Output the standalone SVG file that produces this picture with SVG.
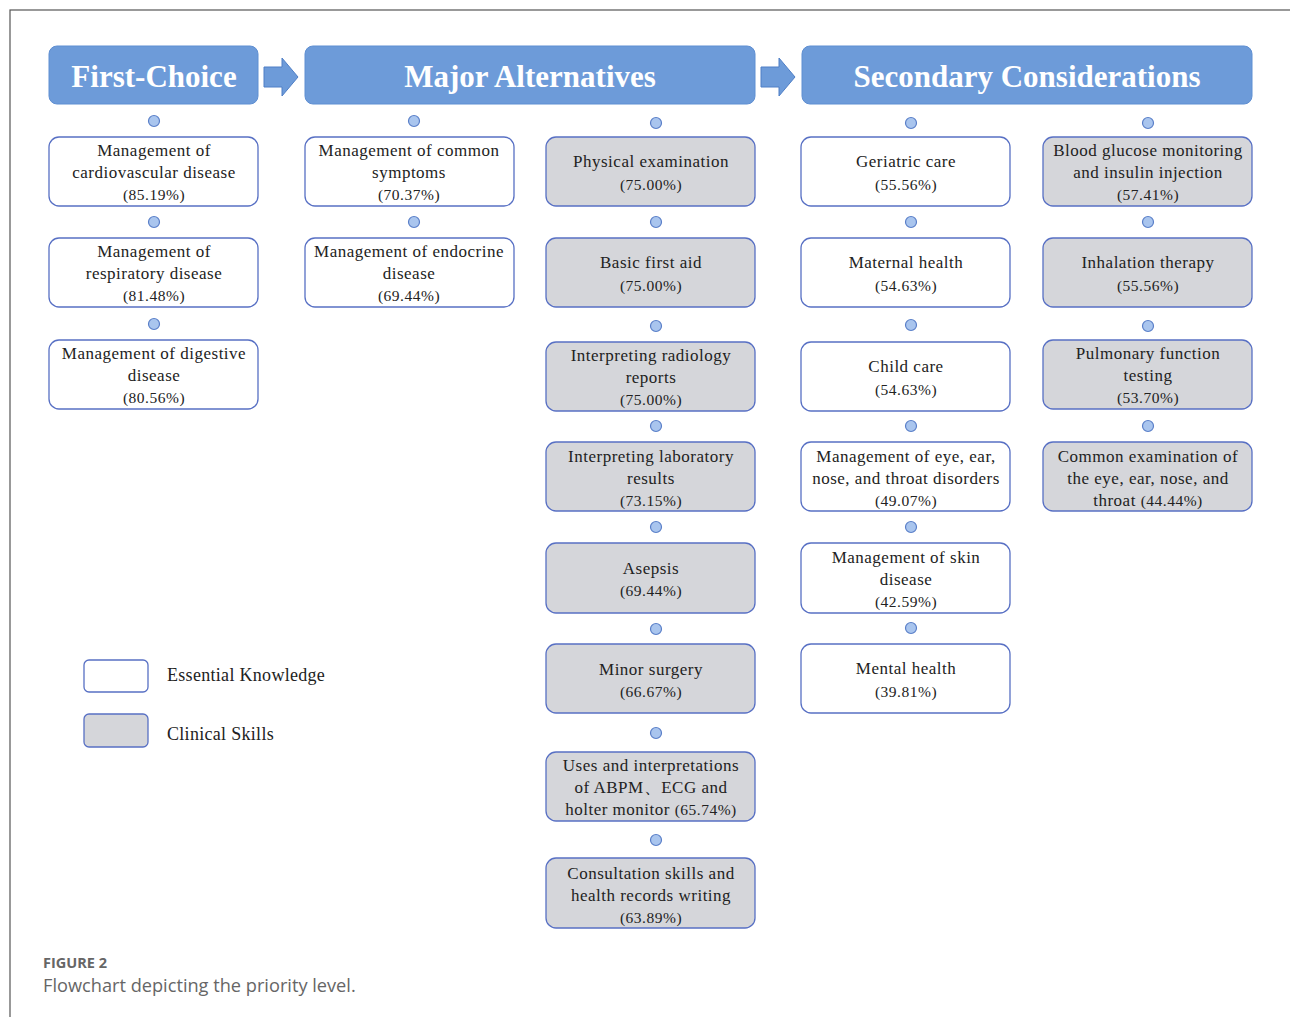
<svg xmlns="http://www.w3.org/2000/svg" width="1290" height="1017" viewBox="0 0 1290 1017">
<style>
.hdr{fill:#6d9bd9;stroke:#5f8fd2;stroke-width:1}
.hdt{font-family:"Liberation Serif",serif;font-weight:bold;font-size:31px;fill:#fff;text-anchor:middle}
.ek{fill:#fff;stroke:#5870c4;stroke-width:1.3}
.cs{fill:#d5d6da;stroke:#5870c4;stroke-width:1.3}
.t{font-family:"Liberation Serif",serif;font-size:17px;letter-spacing:0.5px;fill:#222;text-anchor:middle}
.p{font-size:15.5px;letter-spacing:0.5px}
.dot{fill:#a9c5ee;stroke:#5a7fc8;stroke-width:1.2}
.arr{fill:#6d9bd9;stroke:#4f7fc6;stroke-width:1}
.lg{font-family:"Liberation Serif",serif;font-size:18px;letter-spacing:0.3px;fill:#222}
</style>
<rect x="10" y="10" width="1300" height="1030" fill="none" stroke="#555" stroke-width="1.2"/>
<g id="headers">
<g id="h-first"><rect class="hdr" x="49" y="46" width="209" height="58" rx="8"/><text class="hdt" x="154" y="87">First-Choice</text></g>
<g id="h-major"><rect class="hdr" x="305" y="46" width="450" height="58" rx="8"/><text class="hdt" x="530" y="87">Major Alternatives</text></g>
<g id="h-secondary"><rect class="hdr" x="802" y="46" width="450" height="58" rx="8"/><text class="hdt" x="1027" y="87">Secondary Considerations</text></g>
</g>
<g id="connectors">
<polygon class="arr" points="264,67 282,67 282,58 298,77 282,96 282,87 264,87"/>
<polygon class="arr" points="761,67 779,67 779,58 795,77 779,96 779,87 761,87"/>
<circle class="dot" cx="154" cy="121" r="5.5"/><circle class="dot" cx="154" cy="222" r="5.5"/><circle class="dot" cx="154" cy="324" r="5.5"/>
<circle class="dot" cx="414" cy="121" r="5.5"/><circle class="dot" cx="414" cy="222" r="5.5"/>
<circle class="dot" cx="656" cy="123" r="5.5"/><circle class="dot" cx="656" cy="222" r="5.5"/><circle class="dot" cx="656" cy="326" r="5.5"/><circle class="dot" cx="656" cy="426" r="5.5"/><circle class="dot" cx="656" cy="527" r="5.5"/><circle class="dot" cx="656" cy="629" r="5.5"/><circle class="dot" cx="656" cy="733" r="5.5"/><circle class="dot" cx="656" cy="840" r="5.5"/>
<circle class="dot" cx="911" cy="123" r="5.5"/><circle class="dot" cx="911" cy="222" r="5.5"/><circle class="dot" cx="911" cy="325" r="5.5"/><circle class="dot" cx="911" cy="426" r="5.5"/><circle class="dot" cx="911" cy="527" r="5.5"/><circle class="dot" cx="911" cy="628" r="5.5"/>
<circle class="dot" cx="1148" cy="123" r="5.5"/><circle class="dot" cx="1148" cy="222" r="5.5"/><circle class="dot" cx="1148" cy="326" r="5.5"/><circle class="dot" cx="1148" cy="426" r="5.5"/>
</g>
<g id="n1"><rect class="ek" x="49" y="137" width="209" height="69" rx="10"/><text class="t" x="154" y="156">Management of</text><text class="t" x="154" y="178">cardiovascular disease</text><text class="t p" x="154" y="200">(85.19%)</text></g>
<g id="n2"><rect class="ek" x="49" y="238" width="209" height="69" rx="10"/><text class="t" x="154" y="257">Management of</text><text class="t" x="154" y="279">respiratory disease</text><text class="t p" x="154" y="301">(81.48%)</text></g>
<g id="n3"><rect class="ek" x="49" y="340" width="209" height="69" rx="10"/><text class="t" x="154" y="359">Management of digestive</text><text class="t" x="154" y="381">disease</text><text class="t p" x="154" y="403">(80.56%)</text></g>
<g id="n4"><rect class="ek" x="305" y="137" width="209" height="69" rx="10"/><text class="t" x="409" y="156">Management of common</text><text class="t" x="409" y="178">symptoms</text><text class="t p" x="409" y="200">(70.37%)</text></g>
<g id="n5"><rect class="ek" x="305" y="238" width="209" height="69" rx="10"/><text class="t" x="409" y="257">Management of endocrine</text><text class="t" x="409" y="279">disease</text><text class="t p" x="409" y="301">(69.44%)</text></g>
<g id="n6"><rect class="cs" x="546" y="137" width="209" height="69" rx="10"/><text class="t" x="651" y="167">Physical examination</text><text class="t p" x="651" y="190">(75.00%)</text></g>
<g id="n7"><rect class="cs" x="546" y="238" width="209" height="69" rx="10"/><text class="t" x="651" y="268">Basic first aid</text><text class="t p" x="651" y="291">(75.00%)</text></g>
<g id="n8"><rect class="cs" x="546" y="342" width="209" height="69" rx="10"/><text class="t" x="651" y="361">Interpreting radiology</text><text class="t" x="651" y="383">reports</text><text class="t p" x="651" y="405">(75.00%)</text></g>
<g id="n9"><rect class="cs" x="546" y="442" width="209" height="69" rx="10"/><text class="t" x="651" y="462">Interpreting laboratory</text><text class="t" x="651" y="484">results</text><text class="t p" x="651" y="506">(73.15%)</text></g>
<g id="n10"><rect class="cs" x="546" y="543" width="209" height="70" rx="10"/><text class="t" x="651" y="574">Asepsis</text><text class="t p" x="651" y="596">(69.44%)</text></g>
<g id="n11"><rect class="cs" x="546" y="644" width="209" height="69" rx="10"/><text class="t" x="651" y="675">Minor surgery</text><text class="t p" x="651" y="697">(66.67%)</text></g>
<g id="n12"><rect class="cs" x="546" y="752" width="209" height="69" rx="10"/><text class="t" x="651" y="771">Uses and interpretations</text><text class="t" x="651" y="793">of ABPM、ECG and</text><text class="t" x="651" y="815">holter monitor <tspan class="p">(65.74%)</tspan></text></g>
<g id="n13"><rect class="cs" x="546" y="858" width="209" height="70" rx="10"/><text class="t" x="651" y="879">Consultation skills and</text><text class="t" x="651" y="901">health records writing</text><text class="t p" x="651" y="923">(63.89%)</text></g>
<g id="n14"><rect class="ek" x="801" y="137" width="209" height="69" rx="10"/><text class="t" x="906" y="167">Geriatric care</text><text class="t p" x="906" y="190">(55.56%)</text></g>
<g id="n15"><rect class="ek" x="801" y="238" width="209" height="69" rx="10"/><text class="t" x="906" y="268">Maternal health</text><text class="t p" x="906" y="291">(54.63%)</text></g>
<g id="n16"><rect class="ek" x="801" y="342" width="209" height="69" rx="10"/><text class="t" x="906" y="372">Child care</text><text class="t p" x="906" y="395">(54.63%)</text></g>
<g id="n17"><rect class="ek" x="801" y="442" width="209" height="69" rx="10"/><text class="t" x="906" y="462">Management of eye, ear,</text><text class="t" x="906" y="484">nose, and throat disorders</text><text class="t p" x="906" y="506">(49.07%)</text></g>
<g id="n18"><rect class="ek" x="801" y="543" width="209" height="70" rx="10"/><text class="t" x="906" y="563">Management of skin</text><text class="t" x="906" y="585">disease</text><text class="t p" x="906" y="607">(42.59%)</text></g>
<g id="n19"><rect class="ek" x="801" y="644" width="209" height="69" rx="10"/><text class="t" x="906" y="674">Mental health</text><text class="t p" x="906" y="697">(39.81%)</text></g>
<g id="n20"><rect class="cs" x="1043" y="137" width="209" height="69" rx="10"/><text class="t" x="1148" y="156">Blood glucose monitoring</text><text class="t" x="1148" y="178">and insulin injection</text><text class="t p" x="1148" y="200">(57.41%)</text></g>
<g id="n21"><rect class="cs" x="1043" y="238" width="209" height="69" rx="10"/><text class="t" x="1148" y="268">Inhalation therapy</text><text class="t p" x="1148" y="291">(55.56%)</text></g>
<g id="n22"><rect class="cs" x="1043" y="340" width="209" height="69" rx="10"/><text class="t" x="1148" y="359">Pulmonary function</text><text class="t" x="1148" y="381">testing</text><text class="t p" x="1148" y="403">(53.70%)</text></g>
<g id="n23"><rect class="cs" x="1043" y="442" width="209" height="69" rx="10"/><text class="t" x="1148" y="462">Common examination of</text><text class="t" x="1148" y="484">the eye, ear, nose, and</text><text class="t" x="1148" y="506">throat <tspan class="p">(44.44%)</tspan></text></g>
<g id="legend">
<rect class="ek" x="84" y="660" width="64" height="32" rx="5"/><text class="lg" x="167" y="681">Essential Knowledge</text>
<rect class="cs" x="84" y="714" width="64" height="33" rx="5"/><text class="lg" x="167" y="740">Clinical Skills</text>
</g>
<g id="caption">
<text x="43" y="968" font-family="'Open Sans',sans-serif" font-weight="bold" font-size="14.5" fill="#666">FIGURE 2</text>
<text x="43" y="992" font-family="'Open Sans',sans-serif" font-size="18.2" fill="#666">Flowchart depicting the priority level.</text>
</g>
</svg>
